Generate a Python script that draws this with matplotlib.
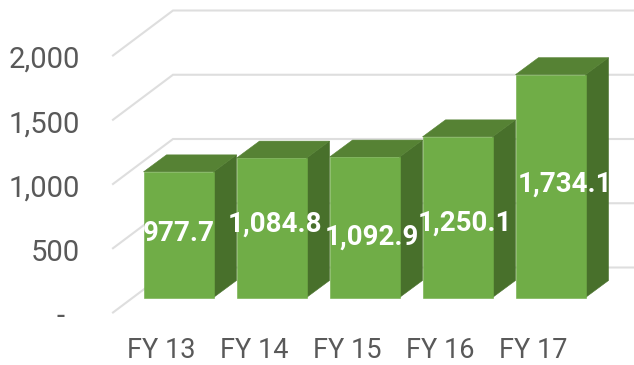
import matplotlib
matplotlib.use("Agg")
import matplotlib.pyplot as plt
from matplotlib.patches import Polygon

categories = ["FY 13", "FY 14", "FY 15", "FY 16", "FY 17"]
values = [977.7, 1084.8, 1092.9, 1250.1, 1734.1]
value_labels = ["977.7", "1,084.8", "1,092.9", "1,250.1", "1,734.1"]
axis_ticks = [0, 500, 1000, 1500, 2000]
axis_tick_labels = ["-", "500", "1,000", "1,500", "2,000"]

FRONT, TOP, SIDE = "#70AD47", "#568234", "#48702B"
GRID, TEXT = "#DEDEDE", "#595959"
W, H = 634, 365
PX_X = 93.0
PX_Y = 0.1285
X0, Y0 = 178.5, 297.5
BAR_W = 70 / PX_X
DX, DY = 23 / PX_X, 17 / PX_Y
FLOOR_FY = 15 / PX_Y
WALL_DX, WALL_DY = 60 / PX_X, 45 / PX_Y

fig = plt.figure(figsize=(W / 100, H / 100), dpi=100)
ax = fig.add_axes([0, 0, 1, 1])
ax.set_xlim(-X0 / PX_X, (W - X0) / PX_X)
ax.set_ylim((Y0 - H) / PX_Y, Y0 / PX_Y)
ax.axis("off")

x_left = (113 - X0) / PX_X
x_right = ax.get_xlim()[1]
for t, lab in zip(axis_ticks, axis_tick_labels):
    yf = t - FLOOR_FY
    ax.plot([x_left, x_left + WALL_DX, x_right], [yf, yf + WALL_DY, yf + WALL_DY],
            color=GRID, lw=1.5, zorder=1, solid_joinstyle="miter")
    right_px = 64.5 if lab == "-" else 79.5
    ax.annotate(lab, ((right_px - X0) / PX_X, yf), xytext=(0, -1.5 * 0.72), textcoords="offset points",
                ha="right", va="center_baseline", fontfamily="Roboto", fontsize=21, color=TEXT)

xs = list(range(len(values)))
for i, v in zip(xs, values):
    l, r = i - BAR_W / 2, i + BAR_W / 2
    z = 3 + i
    ax.add_patch(Polygon([(r, 0), (r + DX, DY), (r + DX, v + DY), (r, v)], fc=SIDE, ec=SIDE, lw=0.4, zorder=z))
    ax.add_patch(Polygon([(l, v), (l + DX, v + DY), (r + DX, v + DY), (r, v)], fc=TOP, ec=TOP, lw=0.4, zorder=z))
    ax.bar(i, v, width=BAR_W, color=FRONT, edgecolor=FRONT, lw=0.4, zorder=z)

label_nudge_px = [(0.5, 1), (3.5, 4), (7.5, -10), (7.5, -6), (14, 2)]
for i, v, s, (nx, ny) in zip(xs, values, value_labels, label_nudge_px):
    ax.annotate(s, (i, v / 2), xytext=(nx * 0.72, ny * 0.72), textcoords="offset points",
                ha="center", va="center", color="white", fontsize=20,
                fontfamily="Roboto", fontweight="bold", zorder=20)

for i, c in zip(xs, categories):
    ax.annotate(c, (i, 0), xytext=(-17 * 0.72, -53 * 0.72), textcoords="offset points",
                ha="center", va="center", color=TEXT, fontsize=19.5, fontfamily="Roboto")

fig.savefig("out.png", dpi=100)
